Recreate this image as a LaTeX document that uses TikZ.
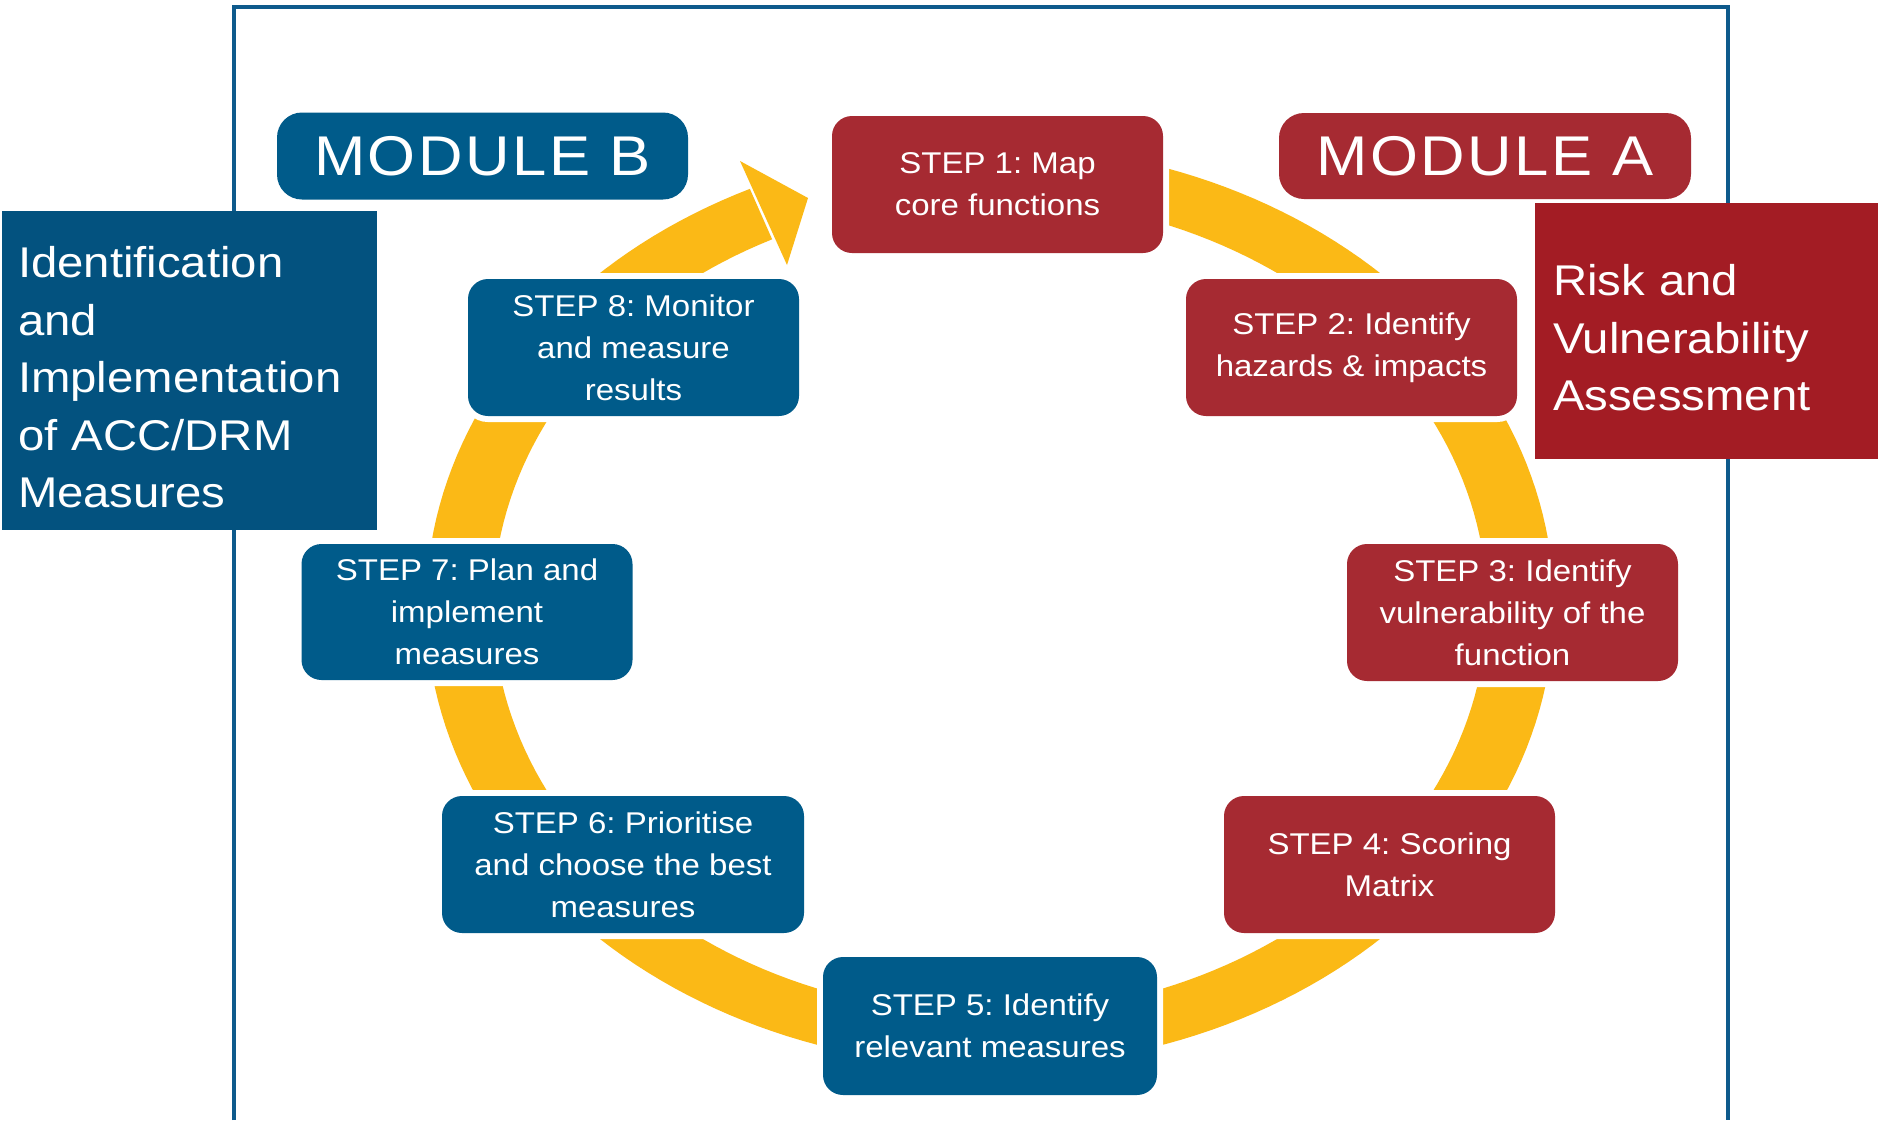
\documentclass[tikz,border=0pt]{standalone}
\usepackage{fontspec}
\setmainfont{Liberation Sans}[FakeStretch=1.1]
\newfontfamily\modfont{Liberation Sans}[FakeStretch=1.1,LetterSpace=4.5]
\frenchspacing
\definecolor{stepblue}{HTML}{005B8A}
\definecolor{stepred}{HTML}{A62A32}
\definecolor{sideblue}{HTML}{03527F}
\definecolor{sidered}{HTML}{A31C24}
\definecolor{ringyellow}{HTML}{FBB916}
\definecolor{framecol}{HTML}{0E5A8C}
\begin{document}
\begin{tikzpicture}[x=1pt,y=-1pt,
  stepbox/.style={rectangle, rounded corners=20pt, minimum width=331pt, minimum height=137pt,
    inner sep=0pt, align=center, text=white, font=\fontsize{30}{42}\selectfont,
    preaction={draw=white, line width=12pt}},
  redstep/.style={stepbox, fill=stepred},
  bluestep/.style={stepbox, fill=stepblue},
  modbox/.style={rectangle, rounded corners=25pt, minimum width=411pt, minimum height=87pt,
    inner sep=0pt, text=white, font=\modfont\fontsize{56}{60}\selectfont},
  sidebox/.style={rectangle, inner sep=0pt},
  sidetext/.style={inner sep=0pt, align=left, text=white, font=\fontsize{43}{57.5}\selectfont},
  ring/.style={fill=ringyellow}
]
% canvas
\fill[white] (0,0) rectangle (1878,1120);
\useasboundingbox (0,0) rectangle (1878,1120);

% frame
\draw[framecol, line width=4pt] (233.5,1120) -- (233.5,7) -- (1728,7) -- (1728,1120);

% cycle ring with arrow
\fill[ring] plot[domain=-80:244.8, samples=200] ({990+564*cos(\x)},{606+461*sin(\x)})
  -- plot[domain=-80:244, samples=200] ({990+497*cos(164-\x)},{606+408*sin(164-\x)}) -- cycle;
\fill[ring] (740,161) -- (808,198) -- (787,265) -- cycle;

% steps
\node[redstep] (s1) at (997.5,184.5) {STEP 1: Map\\core functions};
\node[redstep] (s2) at (1351.5,347.5) {STEP 2: Identify\\hazards \& impacts};
\node[redstep] (s3) at (1512.5,612.5) {STEP 3: Identify\\vulnerability of the\\function};
\node[redstep] (s4) at (1389.5,864.5) {STEP 4: Scoring\\Matrix};
\node[bluestep, minimum width=334pt, minimum height=138pt] (s5) at (990,1026) {STEP 5: Identify\\relevant measures};
\node[bluestep, minimum width=362pt] (s6) at (623,864.5) {STEP 6: Prioritise\\and choose the best\\measures};
\node[bluestep, minimum height=136pt] (s7) at (467,612) {STEP 7: Plan and\\implement\\measures};
\node[bluestep] (s8) at (633.5,347.5) {STEP 8: Monitor\\and measure\\results};

% modules
\node[modbox, fill=stepblue] (modB) at (482.5,156) {MODULE B};
\node[modbox, fill=stepred, minimum width=412pt, minimum height=86pt] (modA) at (1485,156) {MODULE A};

% side labels
\node[sidebox, fill=sideblue, minimum width=375pt, minimum height=319pt] (idbox) at (189.5,370.5) {};
\node[sidetext, text width=343pt] (idtext) at ([yshift=-7pt]idbox.center)
  {Identification\\and\\Implementation\\of ACC/DRM\\Measures};
\node[sidebox, fill=sidered, minimum width=343pt, minimum height=256pt] (riskbox) at (1706.5,331) {};
\node[sidetext, text width=307pt] (risktext) at ([yshift=-7pt]riskbox.center)
  {Risk and\\Vulnerability\\Assessment};
\end{tikzpicture}
\end{document}
